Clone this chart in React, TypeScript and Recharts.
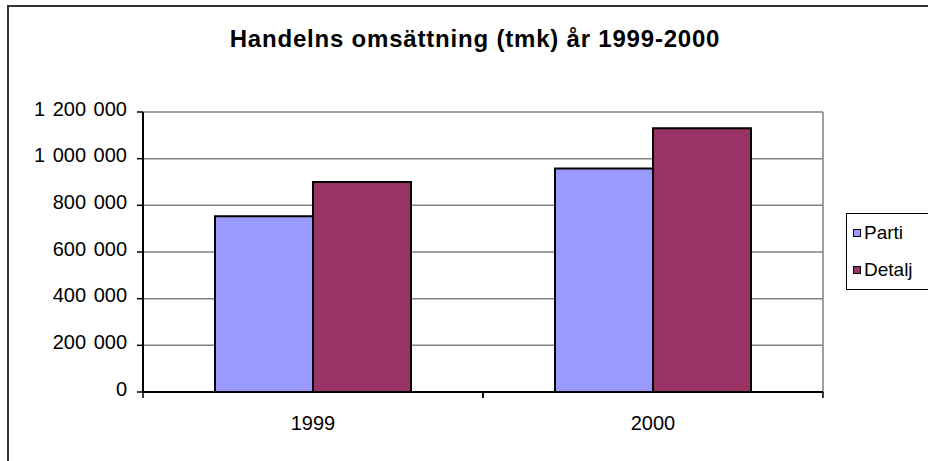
import { Bar, BarChart, CartesianGrid, XAxis, YAxis } from "recharts";

const years = ["1999", "2000"];
const parti = [753000, 958000];
const detalj = [900000, 1130000];
const yTicks = [0, 200000, 400000, 600000, 800000, 1000000, 1200000];

const seriesNames = ["Parti", "Detalj"];
const seriesColors = ["#9999FF", "#993366"];

const font = "'Liberation Sans', Arial, sans-serif";

const chartData = years.map((year, i) => ({ year, Parti: parti[i], Detalj: detalj[i] }));

const fmt = (v: number) => String(v).replace(/\B(?=(\d{3})+(?!\d))/g, " ");

function YTick({ x, y, payload }: any) {
  return (
    <text x={x} y={y + 3.5} textAnchor="end" fontSize={20} wordSpacing={2} fontFamily={font} fill="#000">
      {fmt(payload.value)}
    </text>
  );
}

function XTick({ x, y, payload, offset }: any) {
  const half = payload?.offset ?? offset ?? 170;
  return (
    <g>
      <line x1={x - half} x2={x - half} y1={y} y2={y + 6} stroke="#000" strokeWidth={1.5} />
      <line x1={x + half} x2={x + half} y1={y} y2={y + 6} stroke="#000" strokeWidth={1.5} />
      <text x={x} y={y + 38} textAnchor="middle" fontSize={20} fontFamily={font} fill="#000">
        {payload.value}
      </text>
    </g>
  );
}

export default function App() {
  return (
    <div style={{ position: "fixed", left: 0, top: 0, width: 928, height: 461, overflow: "hidden", background: "#fff" }}>
      <div style={{ position: "absolute", left: 7, top: 5, width: 1000, height: 1000, border: "2px solid #333" }} />
      <div
        style={{
          position: "absolute",
          left: 0,
          width: 950,
          top: 25,
          textAlign: "center",
          fontFamily: font,
          fontWeight: "bold",
          fontSize: 24,
          letterSpacing: 0.8,
          color: "#000",
        }}
      >
        Handelns omsättning (tmk) år 1999-2000
      </div>
      <div style={{ position: "absolute", left: 0, top: 0 }}>
        <BarChart
          width={928}
          height={461}
          data={chartData}
          margin={{ top: 112, right: 105, bottom: 29, left: 0 }}
          barCategoryGap={72}
          barGap={0}
        >
          <CartesianGrid
            stroke="#808080"
            strokeWidth={1.5}
            verticalCoordinatesGenerator={({ offset }: any) => [offset.left + offset.width]}
          />
          <XAxis
            dataKey="year"
            height={40}
            axisLine={{ stroke: "#000", strokeWidth: 2 }}
            tickLine={false}
            tickSize={0}
            tickMargin={0}
            tick={<XTick />}
            interval={0}
          />
          <YAxis
            width={143}
            domain={[0, 1200000]}
            ticks={yTicks}
            interval={0}
            axisLine={{ stroke: "#000", strokeWidth: 2 }}
            tickLine={{ stroke: "#000", strokeWidth: 1.5 }}
            tickSize={6}
            tickMargin={10}
            tick={<YTick />}
          />
          <Bar dataKey="Parti" fill={seriesColors[0]} stroke="#000" strokeWidth={2} isAnimationActive={false} />
          <Bar dataKey="Detalj" fill={seriesColors[1]} stroke="#000" strokeWidth={2} isAnimationActive={false} />
        </BarChart>
      </div>
      <div
        style={{
          position: "absolute",
          left: 846,
          top: 213,
          width: 120,
          height: 75,
          border: "1px solid #000",
          fontFamily: font,
          fontSize: 19,
          color: "#000",
        }}
      >
        {seriesNames.map((name, i) => (
          <div key={name} style={{ position: "absolute", left: 6, top: 8 + i * 37, display: "flex", alignItems: "center" }}>
            <span
              style={{
                display: "inline-block",
                width: 6,
                height: 6,
                border: "1px solid #000",
                background: seriesColors[i],
                marginRight: 3,
              }}
            />
            <span>{name}</span>
          </div>
        ))}
      </div>
    </div>
  );
}
